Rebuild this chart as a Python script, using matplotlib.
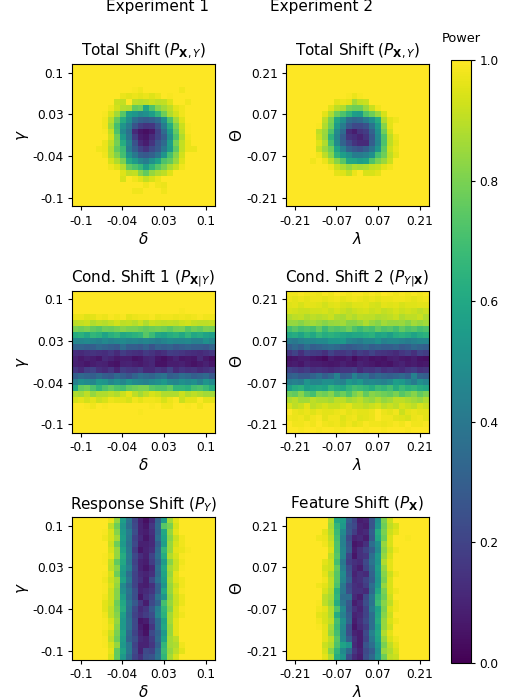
import numpy as np
import matplotlib
matplotlib.use("Agg")
import matplotlib.pyplot as plt

# power values in percent
total_exp1 = [
 [100,100,100,100,100,100,100,100,100,100,100,100,100,100,100,100,100,100,100,100,100,100,100,100],
 [100,100,100,100,100,100,100,100,100,100,100,100,100,100,100,100,100,100,100,100,100,100,100,100],
 [100,100,100,100,100,100,100,100,100,100,100,100,100,100,100,100,100,100,100,100,100,100,100,100],
 [100,100,100,100,100,100,100,100,100,100,100,100,100,100,100,100,100,100,100,100,100,100,100,100],
 [100,100,100,100,100,100,100,100,100,100,99,98,100,100,100,100,100,100,98,100,100,100,100,100],
 [100,100,100,100,100,100,100,100,97,96,97,96,97,95,97,100,99,100,100,100,100,100,100,100],
 [100,100,100,100,100,100,100,92,91,100,90,89,90,92,90,91,95,100,100,98,100,100,100,100],
 [100,100,100,100,100,100,98,93,89,88,76,78,60,72,82,86,90,96,98,100,100,100,100,100],
 [100,100,100,100,100,99,94,86,74,56,53,48,50,56,66,78,88,93,98,100,100,100,100,100],
 [100,100,100,100,100,98,89,76,62,50,36,31,29,31,36,50,72,86,95,100,100,100,100,100],
 [100,100,100,100,100,98,86,70,52,42,26,18,15,16,25,42,62,80,92,99,100,100,100,100],
 [100,100,100,100,100,99,91,72,48,37,12,6,4,7,19,35,55,76,91,99,100,100,100,100],
 [100,100,100,100,100,100,93,78,55,39,18,8,6,12,20,30,50,72,88,98,100,100,100,100],
 [100,100,100,100,100,97,90,79,62,45,25,12,8,15,26,35,56,79,91,97,100,100,100,100],
 [100,100,100,100,98,97,88,76,68,42,30,20,15,22,28,40,55,75,91,97,97,100,100,100],
 [100,100,100,100,100,98,89,81,70,51,40,30,28,31,38,52,70,82,93,100,100,100,100,100],
 [100,100,100,100,100,100,94,88,80,62,55,46,42,50,58,72,76,85,95,100,100,100,100,100],
 [100,100,100,100,100,100,98,95,89,76,72,67,56,66,74,80,87,92,98,100,100,100,100,100],
 [100,100,100,100,100,100,100,100,95,90,91,82,76,84,88,90,95,100,100,100,100,100,100,100],
 [100,100,100,100,100,100,100,100,94,100,98,95,91,94,97,100,100,100,100,100,100,100,100,100],
 [100,100,100,100,100,100,100,100,100,100,100,100,98,100,98,97,100,100,100,100,100,100,100,100],
 [100,100,100,100,100,100,100,100,100,100,98,98,100,100,100,98,100,100,100,100,100,100,100,100],
 [100,100,100,100,100,100,100,100,100,100,100,100,100,100,100,100,100,100,100,100,100,100,100,100],
 [100,100,100,100,100,100,100,100,100,100,100,100,100,100,100,100,100,100,100,100,100,100,100,100],
]

total_exp2 = [
 [100,100,100,100,100,100,100,100,100,100,100,100,100,100,100,100,100,100,100,100,100,100,100,100],
 [100,100,100,100,100,100,100,100,100,100,100,100,100,100,100,100,100,100,100,100,100,100,100,100],
 [100,100,100,100,100,100,100,100,100,100,100,100,100,100,100,100,100,100,100,100,100,100,100,100],
 [100,100,100,100,100,100,100,100,100,100,100,100,100,100,100,100,100,100,100,100,100,100,100,100],
 [100,100,100,100,100,100,100,100,100,100,100,100,100,100,100,100,100,100,100,100,100,100,100,100],
 [100,100,100,100,100,100,100,100,100,100,99,97,99,100,100,100,100,100,100,100,100,100,100,100],
 [100,100,100,100,100,100,100,100,96,97,96,86,91,92,100,100,100,100,100,100,100,100,100,100],
 [100,100,100,100,100,100,100,96,90,88,80,78,78,85,92,98,100,100,100,100,100,100,100,100],
 [100,100,100,100,100,100,96,88,78,72,65,56,55,72,78,85,94,100,100,100,100,100,100,100],
 [100,100,100,100,100,100,90,80,60,50,36,33,35,42,50,62,88,96,98,100,100,100,100,100],
 [100,100,100,100,100,99,88,78,55,42,28,22,22,25,38,55,82,96,100,100,100,100,100,100],
 [100,100,100,100,100,90,85,72,48,35,12,8,15,18,32,50,78,93,100,100,100,100,100,100],
 [100,100,100,100,100,92,84,65,45,30,15,13,10,15,28,48,72,90,97,100,100,100,100,100],
 [100,100,100,100,100,95,88,70,48,32,22,15,12,12,30,46,72,90,96,100,100,100,100,100],
 [100,100,100,100,100,92,85,78,58,44,32,28,25,30,38,52,75,92,97,100,100,100,100,100],
 [100,100,100,100,100,98,90,82,65,56,50,42,42,44,50,70,78,90,96,100,100,100,100,100],
 [100,100,100,100,98,100,97,90,82,74,60,59,56,58,72,80,85,92,100,100,100,100,100,100],
 [100,100,100,100,100,100,100,98,92,88,84,88,87,88,91,92,96,98,100,100,100,100,100,100],
 [100,100,100,100,100,100,100,100,96,95,91,97,100,94,94,96,100,100,100,100,100,100,100,100],
 [100,100,100,100,100,100,100,100,100,100,100,100,100,100,100,100,100,100,100,100,100,100,100,100],
 [100,100,100,100,100,100,100,100,100,100,100,100,100,100,100,100,100,100,100,100,100,100,100,100],
 [100,100,100,100,100,100,100,100,100,100,100,100,100,100,100,100,100,100,100,100,100,100,100,100],
 [100,100,100,100,100,100,100,100,100,100,100,100,100,100,100,100,100,100,100,100,100,100,100,100],
 [100,100,100,100,100,100,100,100,100,100,100,100,100,100,100,100,100,100,100,100,100,100,100,100],
]

cond_exp1 = [
 [100,100,100,100,100,100,100,100,100,100,100,100,100,100,100,100,100,100,100,100,100,100,100,100],
 [100,100,100,100,100,100,100,100,100,100,100,100,100,100,100,100,100,100,100,100,100,100,100,100],
 [100,100,100,100,100,100,100,100,100,100,100,100,100,100,100,100,100,100,100,100,100,100,100,100],
 [100,100,100,100,100,100,100,100,100,100,100,100,100,100,100,100,100,100,99,100,100,100,100,100],
 [97,97,95,96,98,97,99,98,99,96,97,98,98,99,97,98,98,97,98,97,98,99,98,98],
 [90,91,92,88,90,89,91,93,90,91,89,92,88,92,91,90,91,90,92,93,91,90,90,91],
 [80,78,80,76,74,78,77,79,82,80,80,78,76,78,79,78,75,79,80,74,78,76,80,79],
 [62,64,60,66,64,58,63,66,60,62,64,66,74,68,60,58,62,64,60,66,60,62,58,56],
 [46,46,48,45,43,47,44,46,48,45,46,44,46,44,42,45,48,46,46,47,44,44,50,46],
 [32,32,30,30,34,32,30,28,36,30,30,28,32,26,32,30,32,28,30,32,30,30,28,32],
 [13,12,14,15,14,13,16,12,18,15,14,13,17,15,12,14,18,17,16,14,13,12,14,16],
 [10,7,9,8,6,12,10,7,8,8,5,6,10,11,6,4,7,10,6,7,6,12,7,4],
 [9,8,6,8,10,9,6,5,9,10,8,7,9,11,5,5,8,8,9,7,5,7,9,6],
 [16,12,18,20,14,12,16,10,18,16,15,18,12,12,16,14,20,12,16,14,15,12,14,16],
 [30,34,32,30,34,30,28,34,30,26,32,36,34,32,36,38,30,32,36,34,30,32,34,28],
 [44,50,48,46,54,52,46,50,46,52,48,46,44,48,50,54,48,46,50,48,50,44,52,48],
 [60,76,78,72,66,72,76,72,70,76,78,80,80,74,72,72,76,66,66,64,70,72,68,62],
 [88,86,90,84,88,88,90,88,92,96,90,86,90,94,92,88,88,88,92,88,90,88,86,86],
 [94,96,93,96,92,94,97,96,96,94,98,96,98,98,97,94,97,99,92,96,96,99,96,96],
 [100,100,99,98,100,99,100,100,100,100,100,100,100,99,100,98,98,100,100,99,100,98,100,100],
 [100,100,100,100,100,100,100,100,100,100,100,99,100,100,100,100,100,100,100,100,100,100,100,100],
 [100,100,100,100,100,100,100,100,100,100,100,100,100,100,100,100,100,100,100,100,100,100,100,100],
 [100,100,100,100,100,100,100,100,100,100,100,100,100,100,100,100,100,100,100,100,100,100,100,100],
 [100,100,100,100,100,100,100,100,100,100,100,100,100,100,100,100,100,100,100,100,100,100,100,100],
]

cond_exp2 = [
 [98,98,99,98,98,97,99,98,100,99,98,99,99,98,99,98,100,99,98,99,98,99,98,99],
 [97,96,97,96,97,97,96,97,98,96,97,98,97,96,97,96,97,97,98,98,97,96,97,98],
 [95,96,94,96,96,95,93,95,96,94,93,95,95,96,94,93,96,95,96,94,95,95,96,96],
 [94,93,92,92,93,93,94,92,94,92,90,92,93,94,92,93,91,92,94,92,93,92,90,92],
 [88,90,91,88,90,89,90,92,88,87,90,88,91,90,90,88,89,90,92,88,90,90,92,88],
 [84,84,82,85,86,84,82,84,85,86,82,82,84,88,84,82,86,84,84,85,82,86,84,86],
 [70,74,70,72,70,76,68,74,72,74,78,72,68,72,70,76,72,74,70,76,72,74,70,72],
 [60,62,58,64,60,66,62,64,62,60,58,60,60,62,64,58,60,56,62,64,62,58,62,64],
 [42,40,44,46,46,48,48,52,52,54,46,44,42,46,46,50,44,46,46,44,42,44,46,46],
 [30,34,30,36,30,32,34,36,34,30,28,30,32,34,30,32,30,30,32,28,30,34,32,30],
 [16,20,14,20,18,17,14,20,16,16,18,14,18,16,20,16,15,14,12,16,18,14,20,18],
 [5,6,8,8,6,5,3,8,6,6,8,3,7,8,5,6,5,8,9,7,6,8,5,4],
 [7,8,6,10,8,8,7,6,7,9,7,6,10,8,7,5,6,5,8,10,7,8,6,7],
 [20,18,16,18,14,15,14,12,14,16,16,18,12,16,15,18,14,16,14,12,16,18,14,15],
 [30,32,28,28,32,36,30,34,44,30,32,44,36,38,30,34,32,30,32,34,30,44,32,30],
 [42,44,42,52,46,46,50,50,46,44,54,50,54,46,48,46,44,48,56,54,48,42,50,46],
 [56,62,64,56,58,60,58,66,62,60,66,70,68,66,62,68,66,70,62,68,64,66,62,60],
 [78,76,82,74,70,80,78,82,74,78,72,80,84,76,82,80,78,76,80,74,78,82,76,80],
 [88,90,86,86,90,88,88,86,90,90,86,88,90,86,84,88,84,86,90,90,88,86,84,88],
 [94,90,92,96,90,92,94,92,92,94,96,92,92,90,92,94,90,92,90,94,92,90,94,92],
 [100,97,96,97,95,97,96,96,97,98,96,97,96,96,97,100,97,96,98,92,96,97,96,96],
 [98,97,98,96,98,99,96,98,98,95,97,98,95,96,97,100,98,98,96,95,94,97,98,96],
 [100,98,98,99,98,100,98,97,98,96,98,96,97,99,98,98,97,98,99,98,100,98,98,99],
 [100,100,99,100,100,99,100,100,99,99,100,100,100,99,100,100,99,100,100,100,99,100,100,100],
]

response_exp1 = [
 [100,100,100,100,100,100,97,84,56,38,21,9,4,12,32,55,86,96,100,100,100,100,100,100],
 [100,100,100,100,100,100,90,78,52,36,22,10,6,16,34,74,80,94,100,100,100,100,100,100],
 [100,100,100,100,100,99,94,82,54,42,24,10,8,14,33,60,84,96,100,100,100,100,100,100],
 [100,100,100,100,100,98,94,86,56,40,20,12,6,12,36,58,82,92,98,100,100,100,100,100],
 [100,100,100,100,100,100,92,78,54,38,22,9,9,12,30,56,84,94,98,100,100,100,100,100],
 [100,100,100,100,100,100,94,84,58,40,18,6,10,14,34,66,84,96,97,99,100,100,100,100],
 [100,100,100,100,100,99,96,84,62,42,22,13,9,20,36,62,88,94,99,100,100,100,100,100],
 [100,100,100,100,100,99,91,76,60,40,20,10,8,18,32,55,82,92,98,100,100,100,100,100],
 [100,100,100,100,100,100,90,82,56,44,22,10,6,12,36,60,86,92,99,100,100,100,100,100],
 [100,100,100,100,100,99,94,78,54,36,20,12,10,14,34,58,84,96,100,100,100,100,100,100],
 [100,100,100,100,100,98,92,86,58,40,20,14,8,22,38,56,86,95,98,100,100,100,100,100],
 [100,100,100,100,100,99,94,84,48,34,20,9,8,14,30,52,84,92,98,100,100,100,100,100],
 [100,100,100,100,100,99,92,82,50,38,24,10,12,16,30,60,84,94,99,100,100,100,100,100],
 [100,100,100,100,100,98,92,82,56,36,24,6,14,20,38,52,82,92,97,100,100,100,100,100],
 [100,100,100,100,100,96,92,78,60,40,28,16,8,22,32,70,84,92,97,100,100,100,100,100],
 [100,100,100,100,100,96,90,80,62,38,22,12,16,28,44,66,82,94,99,100,100,100,100,100],
 [100,100,100,100,100,98,90,82,56,36,20,14,18,24,46,64,86,94,98,100,100,100,100,100],
 [100,100,100,100,100,99,94,84,54,38,22,6,8,20,36,58,86,96,100,100,100,100,100,100],
 [100,100,100,100,100,99,96,82,54,38,22,8,4,16,36,60,84,96,100,100,100,100,100,100],
 [100,100,100,100,100,98,92,80,58,34,20,10,5,22,32,54,84,96,100,100,100,100,100,100],
 [100,100,100,100,100,99,90,78,56,32,24,12,10,18,34,58,86,90,100,100,100,100,100,100],
 [100,100,100,100,100,99,94,84,54,40,20,10,10,16,30,66,86,88,98,100,100,100,100,100],
 [100,100,100,100,100,100,96,76,58,40,22,9,22,20,36,68,84,90,96,100,100,100,100,100],
 [100,100,100,100,100,100,94,76,54,36,20,14,24,26,38,66,86,94,100,100,100,100,100,100],
]

feature_exp2 = [
 [100,100,100,100,100,100,100,88,60,56,30,20,8,10,26,50,80,92,100,100,100,100,100,100],
 [100,100,100,100,100,100,100,86,66,54,26,22,10,8,26,52,78,90,94,100,100,100,100,100],
 [100,100,100,100,100,100,96,88,68,48,28,18,10,12,30,62,80,92,96,100,100,100,100,100],
 [100,100,100,100,100,98,97,90,70,44,22,10,12,8,28,60,78,94,100,100,99,100,100,100],
 [100,100,100,100,100,100,98,92,72,44,26,6,8,14,36,50,84,94,100,100,100,100,100,100],
 [100,100,100,100,100,100,100,94,72,46,28,8,14,20,30,48,82,92,98,100,100,100,100,100],
 [100,100,100,100,100,100,100,90,74,46,20,6,14,16,36,54,84,94,100,100,100,100,100,100],
 [100,100,100,100,100,100,96,92,70,40,18,14,12,22,38,52,88,96,100,100,100,100,100,100],
 [100,100,100,100,100,100,94,92,76,44,24,12,8,20,34,56,84,96,100,100,100,100,100,100],
 [100,100,100,100,100,100,96,88,74,48,26,10,14,12,32,54,82,92,98,100,100,100,100,100],
 [100,100,100,100,100,100,98,90,74,46,30,12,14,20,30,52,80,94,100,100,100,100,100,100],
 [100,100,100,100,100,98,96,90,72,40,22,14,12,18,36,54,84,94,100,100,100,100,100,100],
 [100,100,100,100,100,100,94,88,64,40,24,14,14,12,34,60,80,94,98,100,100,100,100,100],
 [100,100,100,100,100,100,90,86,66,36,36,12,8,22,40,66,78,92,100,100,100,100,100,100],
 [100,100,100,100,100,99,90,84,62,40,28,8,12,24,38,68,82,90,98,100,100,100,100,100],
 [100,100,100,100,100,98,96,88,72,48,26,14,10,20,42,58,80,94,98,100,100,100,100,100],
 [100,100,100,100,100,96,94,88,62,44,30,10,12,20,36,60,82,92,100,100,100,100,100,100],
 [100,100,100,100,100,98,94,90,70,50,32,8,14,22,36,62,84,94,98,100,100,100,100,100],
 [100,100,100,100,100,99,96,86,68,48,24,6,12,18,36,58,84,92,100,100,100,100,100,100],
 [100,100,100,100,100,100,96,84,70,46,24,10,8,22,44,60,88,96,100,100,100,100,100,100],
 [100,100,100,100,100,100,96,90,74,48,30,14,8,20,40,58,84,94,98,100,100,100,100,100],
 [100,100,100,100,100,100,92,88,72,58,52,12,8,26,36,54,80,90,96,100,100,100,100,100],
 [100,100,100,100,100,100,94,82,66,48,34,16,10,22,30,50,84,88,94,100,100,100,100,100],
 [100,100,100,100,100,100,96,88,62,52,24,12,8,24,34,52,78,90,92,100,100,100,100,100],
]

exp1_xlabels = ["-0.1", "-0.04", "0.03", "0.1"]
exp1_ylabels = ["0.1", "0.03", "-0.04", "-0.1"]
exp2_xlabels = ["-0.21", "-0.07", "0.07", "0.21"]
exp2_ylabels = ["0.21", "0.07", "-0.07", "-0.21"]
tick_cells = [1, 8, 15, 22]

panels = [
    (total_exp1, r"Total Shift ($P_{\mathbf{X},Y}$)", 1, 0, 0),
    (total_exp2, r"Total Shift ($P_{\mathbf{X},Y}$)", 2, 0, 1),
    (cond_exp1, r"Cond. Shift 1 ($P_{\mathbf{X}|Y}$)", 1, 1, 0),
    (cond_exp2, r"Cond. Shift 2 ($P_{Y|\mathbf{X}}$)", 2, 1, 1),
    (response_exp1, r"Response Shift ($P_Y$)", 1, 2, 0),
    (feature_exp2, r"Feature Shift ($P_{\mathbf{X}}$)", 2, 2, 1),
]

W, H = 512, 700
col_x = [72, 286]
row_y = [64, 290.5, 517]
size = 142.5


def box(x0, y0, w, h):
    # pixel box from the top left -> figure fractions
    return [x0 / W, 1 - (y0 + h) / H, w / W, h / H]


plt.rcParams["mathtext.fontset"] = "dejavusans"
fig = plt.figure(figsize=(W / 100, H / 100), dpi=100)

for values, title, exp, r, c in panels:
    ax = fig.add_axes(box(col_x[c], row_y[r], size, size))
    im = ax.imshow(np.array(values) / 100, cmap="viridis", vmin=0, vmax=1, aspect="auto")
    ax.set_title(title, fontsize=11, pad=6)
    ax.set_xticks(tick_cells)
    ax.set_yticks(tick_cells)
    if exp == 1:
        ax.set_xticklabels(exp1_xlabels)
        ax.set_yticklabels(exp1_ylabels)
        ax.set_xlabel(r"$\delta$", fontsize=11, labelpad=2)
        ax.set_ylabel(r"$\gamma$", fontsize=11, labelpad=1)
    else:
        ax.set_xticklabels(exp2_xlabels)
        ax.set_yticklabels(exp2_ylabels)
        ax.set_xlabel(r"$\lambda$", fontsize=11, labelpad=2)
        ax.set_ylabel(r"$\Theta$", fontsize=11, labelpad=1)
    ax.tick_params(labelsize=8.7, length=3, pad=3)

cax = fig.add_axes(box(451, 60, 20, 603))
cbar = fig.colorbar(im, cax=cax)
cbar.set_ticks([0, 0.2, 0.4, 0.6, 0.8, 1.0])
cbar.ax.tick_params(labelsize=8.7, length=3, pad=3)

fig.text(157 / W, 1 - 7 / H, "Experiment 1", fontsize=11, ha="center", va="center")
fig.text(321 / W, 1 - 7 / H, "Experiment 2", fontsize=11, ha="center", va="center")
fig.text(461 / W, 1 - 38 / H, "Power", fontsize=9.3, ha="center", va="center")

fig.savefig("out.png", dpi=100)
